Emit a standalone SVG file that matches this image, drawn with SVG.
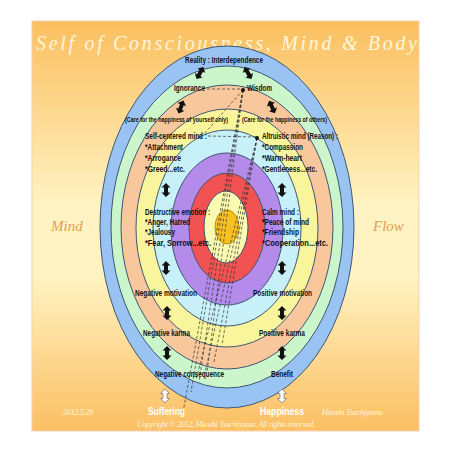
<svg xmlns="http://www.w3.org/2000/svg" width="452" height="452" viewBox="0 0 452 452">
<defs>
<linearGradient id="bg" x1="0" y1="0" x2="0" y2="1">
<stop offset="0" stop-color="#fbbf5f"/>
<stop offset="0.45" stop-color="#fff3c3"/>
<stop offset="0.62" stop-color="#fff3c3"/>
<stop offset="1" stop-color="#fbbf62"/>
</linearGradient>
<path id="arr" d="M0,-7 L4.5,-2.5 L2,-2.5 L2,2.5 L4.5,2.5 L0,7 L-4.5,2.5 L-2,2.5 L-2,-2.5 L-4.5,-2.5 Z"/>
</defs>
<style>
.ring{stroke:#3f5672;stroke-width:1}
.lb{font-family:"Liberation Sans Narrow","Liberation Sans",Arial,sans-serif;font-weight:bold;font-size:8.5px;fill:#111}
.sm{font-family:"Liberation Sans Narrow","Liberation Sans",Arial,sans-serif;font-weight:bold;font-size:6.5px;fill:#111}
.ba{fill:#111}
.wa{fill:#fff;stroke:#777;stroke-width:0.7}
.dl{stroke:#333;stroke-width:0.7;stroke-dasharray:3 2;fill:none}
.sc{font-family:"Liberation Serif",serif;font-style:italic}
.wt{font-family:"Liberation Sans",Arial,sans-serif;font-weight:bold;font-size:11px;fill:#fff}
</style>
<rect x="32" y="21" width="387" height="410" fill="url(#bg)" stroke="#f4d2b0" stroke-width="1"/>
<text class="sc" x="36" y="50" font-size="20" fill="#fff6dc" textLength="381" lengthAdjust="spacing">Self of Consciousness, Mind &amp; Body</text>
<text class="sc" x="51" y="231" font-size="15" fill="#e0a050">Mind</text>
<text class="sc" x="373" y="231" font-size="15" fill="#e0a050">Flow</text>
<g id="rings">
<ellipse class="ring" cx="227" cy="227" rx="127" ry="181" fill="#99c3f2"/>
<ellipse class="ring" cx="227" cy="227" rx="116" ry="161" fill="#cbf5cb"/>
<ellipse class="ring" cx="227" cy="227" rx="106" ry="142" fill="#f9c79c"/>
<ellipse class="ring" cx="227" cy="228" rx="91" ry="119" fill="#f8f59c"/>
<ellipse class="ring" cx="227" cy="228" rx="74" ry="98" fill="#c8f0f8"/>
<ellipse class="ring" cx="227" cy="229" rx="56" ry="76" fill="#b48aea"/>
<ellipse class="ring" cx="227" cy="228" rx="38" ry="55" fill="#f25252"/>
<ellipse class="ring" cx="226" cy="227" rx="22" ry="36" fill="#fafab0"/>
<ellipse cx="227" cy="227" rx="12" ry="17" fill="#f5c020" stroke="#b08000" stroke-width="0.8"/>
</g>
<g id="connectors">
<line class="dl" x1="207" y1="89" x2="242" y2="89" stroke-dasharray="1.5 1.5"/>
<line class="dl" x1="208" y1="136" x2="256" y2="137"/>
<line class="dl" x1="243" y1="90" x2="204" y2="134"/>
<line class="dl" x1="243" y1="90" x2="183" y2="412"/>
<line class="dl" x1="243" y1="90" x2="191" y2="392"/>
<line class="dl" x1="243" y1="90" x2="199" y2="382"/>
<line class="dl" x1="243" y1="90" x2="207" y2="372"/>
<line class="dl" x1="257" y1="138" x2="196" y2="380"/>
<line class="dl" x1="257" y1="138" x2="205" y2="373"/>
<line class="dl" x1="257" y1="138" x2="214" y2="362"/>
<line class="dl" x1="257" y1="138" x2="222" y2="345"/>
<circle cx="243" cy="90" r="2" fill="#111"/>
<circle cx="257" cy="138" r="2" fill="#111"/>
<use href="#arr" class="ba" transform="translate(200,73) rotate(30)"/>
<use href="#arr" class="ba" transform="translate(248,73) rotate(-30)"/>
<use href="#arr" class="ba" transform="translate(181,107) rotate(20)"/>
<use href="#arr" class="ba" transform="translate(272,107) rotate(-25)"/>
<use href="#arr" class="ba" transform="translate(166,190)"/>
<use href="#arr" class="ba" transform="translate(282,190)"/>
<use href="#arr" class="ba" transform="translate(166,268)"/>
<use href="#arr" class="ba" transform="translate(282,268)"/>
<use href="#arr" class="ba" transform="translate(167,313)"/>
<use href="#arr" class="ba" transform="translate(282,313)"/>
<use href="#arr" class="ba" transform="translate(167,353)"/>
<use href="#arr" class="ba" transform="translate(282,353)"/>
<use href="#arr" class="wa" transform="translate(165,396)"/>
<use href="#arr" class="wa" transform="translate(282,396)"/>
</g>
<g id="n-reality"><text class="lb" x="185" y="63" textLength="78" lengthAdjust="spacingAndGlyphs">Reality : Interdependence</text></g>
<g id="n-ignorance"><text class="lb" x="174" y="91" textLength="31" lengthAdjust="spacingAndGlyphs">Ignorance</text></g>
<g id="n-wisdom"><text class="lb" x="247" y="91" textLength="25" lengthAdjust="spacingAndGlyphs">Wisdom</text></g>
<g id="n-care-self"><text class="sm" x="125" y="122" textLength="103" lengthAdjust="spacingAndGlyphs">(Care for the happiness of yourself only)</text></g>
<g id="n-care-others"><text class="sm" x="242" y="122" textLength="85" lengthAdjust="spacingAndGlyphs">(Care for the happiness of others)</text></g>
<g id="n-selfcentered">
<text class="lb" x="145" y="139" textLength="62" lengthAdjust="spacingAndGlyphs">Self-centered mind :</text>
<text class="lb" x="145" y="150" textLength="38" lengthAdjust="spacingAndGlyphs">*Attachment</text>
<text class="lb" x="145" y="161" textLength="36" lengthAdjust="spacingAndGlyphs">*Arrogance</text>
<text class="lb" x="145" y="172" textLength="40" lengthAdjust="spacingAndGlyphs">*Greed...etc.</text>
</g>
<g id="n-altruistic">
<text class="lb" x="262" y="139" textLength="76" lengthAdjust="spacingAndGlyphs">Altruistic mind (Reason) :</text>
<text class="lb" x="262" y="150" textLength="41" lengthAdjust="spacingAndGlyphs">*Compassion</text>
<text class="lb" x="262" y="161" textLength="40" lengthAdjust="spacingAndGlyphs">*Warm-heart</text>
<text class="lb" x="262" y="172" textLength="55" lengthAdjust="spacingAndGlyphs">*Gentleness...etc.</text>
</g>
<g id="n-destructive">
<text class="lb" x="145" y="215" textLength="65" lengthAdjust="spacingAndGlyphs">Destructive emotion :</text>
<text class="lb" x="145" y="225" textLength="45" lengthAdjust="spacingAndGlyphs">*Anger, Hatred</text>
<text class="lb" x="145" y="235" textLength="30" lengthAdjust="spacingAndGlyphs">*Jealousy</text>
<text class="lb" x="145" y="246" textLength="66" lengthAdjust="spacingAndGlyphs">*Fear, Sorrow...etc.</text>
</g>
<g id="n-calm">
<text class="lb" x="262" y="215" textLength="37" lengthAdjust="spacingAndGlyphs">Calm mind :</text>
<text class="lb" x="262" y="225" textLength="47" lengthAdjust="spacingAndGlyphs">*Peace of mind</text>
<text class="lb" x="262" y="235" textLength="37" lengthAdjust="spacingAndGlyphs">*Friendship</text>
<text class="lb" x="262" y="246" textLength="66" lengthAdjust="spacingAndGlyphs">*Cooperation...etc.</text>
</g>
<g id="n-negmot"><text class="lb" x="135" y="296" textLength="62" lengthAdjust="spacingAndGlyphs">Negative motivation</text></g>
<g id="n-posmot"><text class="lb" x="253" y="296" textLength="59" lengthAdjust="spacingAndGlyphs">Positive motivation</text></g>
<g id="n-negkarma"><text class="lb" x="143" y="336" textLength="47" lengthAdjust="spacingAndGlyphs">Negative karma</text></g>
<g id="n-poskarma"><text class="lb" x="259" y="336" textLength="46" lengthAdjust="spacingAndGlyphs">Positive karma</text></g>
<g id="n-negcons"><text class="lb" x="155" y="377" textLength="69" lengthAdjust="spacingAndGlyphs">Negative consequence</text></g>
<g id="n-benefit"><text class="lb" x="271" y="377" textLength="22" lengthAdjust="spacingAndGlyphs">Benefit</text></g>
<g id="n-suffering"><text class="wt" x="148" y="415" textLength="37" lengthAdjust="spacingAndGlyphs">Suffering</text></g>
<g id="n-happiness"><text class="wt" x="260" y="415" textLength="44" lengthAdjust="spacingAndGlyphs">Happiness</text></g>
<text class="sc" x="63" y="415" font-size="8.5" fill="#fff3d8" textLength="30">2012.5.29</text>
<text class="sc" x="322" y="415" font-size="8.5" fill="#fff3d8" textLength="61">Hitoshi Tsuchiyama</text>
<text class="sc" x="137" y="427" font-size="8.5" fill="#fff3d8" textLength="178">Copyright © 2012, Hitoshi Tsuchiyama. All rights reserved.</text>
</svg>
